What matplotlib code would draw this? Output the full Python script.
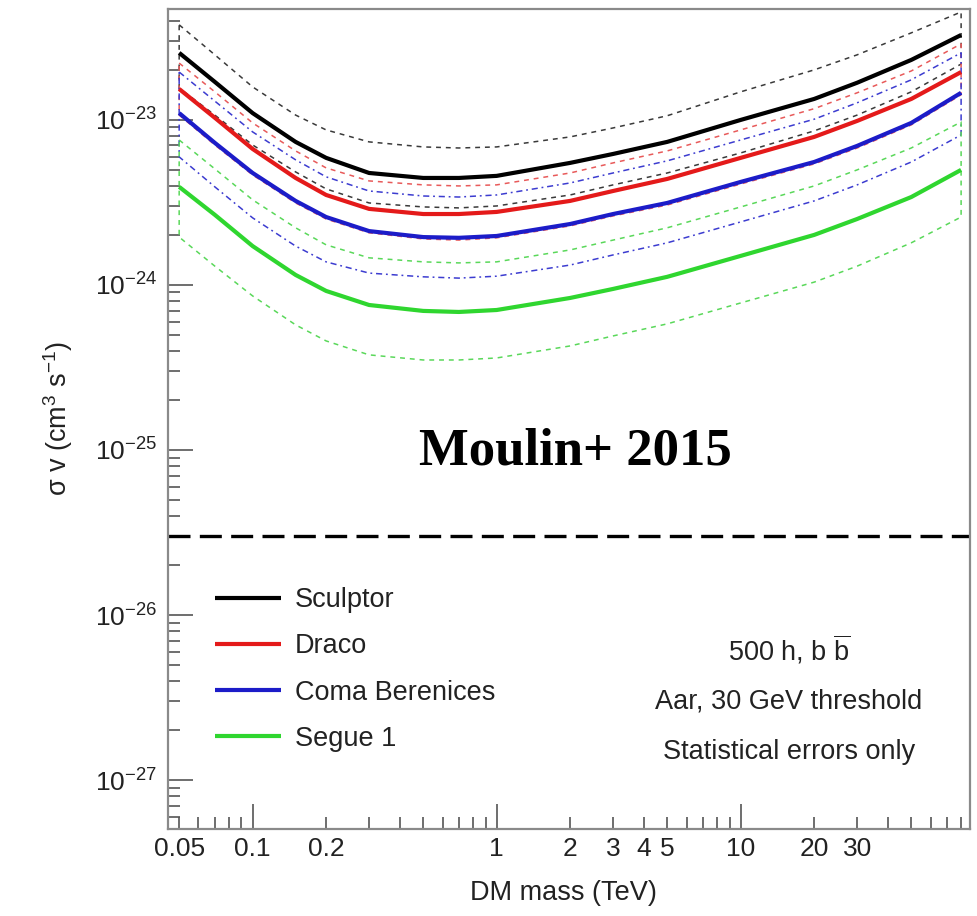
import numpy as np
import matplotlib
matplotlib.use('Agg')
import matplotlib.pyplot as plt
from matplotlib.ticker import FixedLocator, FuncFormatter, NullFormatter

plt.rcParams['font.family'] = ['Liberation Sans', 'DejaVu Sans']
plt.rcParams['mathtext.fontset'] = 'custom'
plt.rcParams['mathtext.rm'] = 'Liberation Sans'
plt.rcParams['mathtext.it'] = 'Liberation Sans:italic'
plt.rcParams['mathtext.bf'] = 'Liberation Sans:bold'

# DM mass grid (TeV)
mass = [0.05, 0.07, 0.1, 0.15, 0.2, 0.3, 0.5, 0.7, 1, 2, 3, 5, 10, 20, 30, 50, 80]

# 95% CL upper limits on <sigma v> (cm^3 s^-1), 500 h, b bbar
sculptor = [2.55e-23, 1.70e-23, 1.10e-23, 7.36e-24, 5.89e-24, 4.77e-24, 4.45e-24, 4.45e-24, 4.58e-24,
            5.49e-24, 6.22e-24, 7.36e-24, 1.00e-23, 1.34e-23, 1.68e-23, 2.31e-23, 3.27e-23]
draco = [1.54e-23, 1.03e-23, 6.67e-24, 4.45e-24, 3.51e-24, 2.89e-24, 2.69e-24, 2.69e-24, 2.77e-24,
         3.23e-24, 3.71e-24, 4.39e-24, 5.89e-24, 7.89e-24, 9.86e-24, 1.34e-23, 1.95e-23]
coma = [1.10e-23, 7.26e-24, 4.77e-24, 3.23e-24, 2.58e-24, 2.12e-24, 1.95e-24, 1.93e-24, 1.98e-24,
        2.34e-24, 2.69e-24, 3.14e-24, 4.21e-24, 5.56e-24, 6.96e-24, 9.59e-24, 1.46e-23]
segue = [3.93e-24, 2.66e-24, 1.72e-24, 1.15e-24, 9.20e-25, 7.56e-25, 6.96e-25, 6.86e-25, 7.05e-25,
         8.34e-25, 9.46e-25, 1.12e-24, 1.50e-24, 2.01e-24, 2.51e-24, 3.41e-24, 4.98e-24]

# J-factor uncertainty bands (upper / lower edges)
sculptor_hi = [3.77e-23, 2.48e-23, 1.585e-23, 1.07e-23, 8.70e-24, 7.36e-24, 6.86e-24, 6.76e-24, 6.86e-24,
               7.89e-24, 8.94e-24, 1.06e-23, 1.48e-23, 2.01e-23, 2.48e-23, 3.37e-23, 4.51e-23]
sculptor_lo = [1.56e-23, 1.07e-23, 7.05e-24, 4.84e-24, 3.82e-24, 3.14e-24, 2.97e-24, 2.93e-24, 3.01e-24,
               3.51e-24, 4.04e-24, 4.77e-24, 6.31e-24, 8.58e-24, 1.07e-23, 1.48e-23, 2.18e-23]
draco_hi = [2.21e-23, 1.48e-23, 9.59e-24, 6.49e-24, 5.12e-24, 4.27e-24, 4.04e-24, 3.98e-24, 4.04e-24,
            4.77e-24, 5.49e-24, 6.49e-24, 8.70e-24, 1.17e-23, 1.46e-23, 1.98e-23, 2.89e-23]
draco_lo = [1.07e-23, 7.05e-24, 4.64e-24, 3.14e-24, 2.51e-24, 2.07e-24, 1.90e-24, 1.87e-24, 1.93e-24,
            2.28e-24, 2.62e-24, 3.05e-24, 4.09e-24, 5.41e-24, 6.76e-24, 9.33e-24, 1.42e-23]
coma_hi = [1.95e-23, 1.30e-23, 8.46e-24, 5.73e-24, 4.52e-24, 3.71e-24, 3.46e-24, 3.41e-24, 3.51e-24,
           4.15e-24, 4.77e-24, 5.65e-24, 7.56e-24, 1.01e-23, 1.27e-23, 1.75e-23, 2.55e-23]
coma_lo = [5.97e-24, 3.93e-24, 2.55e-24, 1.72e-24, 1.38e-24, 1.18e-24, 1.12e-24, 1.10e-24, 1.13e-24,
           1.32e-24, 1.52e-24, 1.80e-24, 2.41e-24, 3.23e-24, 4.04e-24, 5.56e-24, 8.11e-24]
segue_hi = [7.56e-24, 5.05e-24, 3.28e-24, 2.22e-24, 1.75e-24, 1.46e-24, 1.38e-24, 1.36e-24, 1.38e-24,
            1.63e-24, 1.87e-24, 2.22e-24, 2.97e-24, 3.98e-24, 4.98e-24, 6.76e-24, 9.72e-24]
segue_lo = [1.95e-24, 1.30e-24, 8.58e-25, 5.73e-25, 4.58e-25, 3.77e-25, 3.51e-25, 3.51e-25, 3.61e-25,
            4.27e-25, 4.91e-25, 5.81e-25, 7.78e-25, 1.04e-24, 1.30e-24, 1.80e-24, 2.58e-24]

thermal = 3e-26
names = ['Sculptor', 'Draco', 'Coma Berenices', 'Segue 1']
x_labels = [0.05, 0.1, 0.2, 1, 2, 3, 4, 5, 10, 20, 30]
y_decades = [1e-27, 1e-26, 1e-25, 1e-24, 1e-23]

fig = plt.figure(figsize=(9.77, 9.16), dpi=100)
ax = fig.add_axes([168 / 977, 1 - 829 / 916, 802 / 977, 820 / 916])
ax.set_xscale('log')
ax.set_yscale('log')
ax.set_xlim(0.045, 87)
ax.set_ylim(5.05e-28, 4.7e-23)

solid_cols = ['#000000', '#e41a1a', '#1c1cc8', '#2fd62f']
band_cols = ['#3a3a3a', '#e85a5a', '#3c3cd0', '#5ad85a']
band_ls = [(0, (3.2, 3.2)), (0, (3.2, 3.2)), (0, (4, 2.5, 1.2, 2.5)), (0, (3.2, 3.2))]
bands = [(sculptor_hi, sculptor_lo), (draco_hi, draco_lo), (coma_hi, coma_lo), (segue_hi, segue_lo)]
limits = [sculptor, draco, coma, segue]

# band outlines drawn as closed contours
xb = np.concatenate([mass, mass[::-1], mass[:1]])
for (hi, lo), c, ls in zip(bands, band_cols, band_ls):
    yb = np.concatenate([hi, lo[::-1], hi[:1]])
    ax.plot(xb, yb, color=c, lw=1.1, ls=ls)

handles = []
for y, c, n in zip(limits, solid_cols, names):
    l, = ax.plot(mass, y, color=c, lw=3.0, solid_capstyle='butt', label=n)
    handles.append(l)

ax.axhline(thermal, color='black', lw=2.4, ls=(0, (6.6, 2.8)))

# axes styling
for s in ax.spines.values():
    s.set_color('#8a8a8a')
    s.set_linewidth(1.6)

ax.xaxis.set_major_locator(FixedLocator([0.1, 1, 10]))
minors = [m * d for d in (0.01, 0.1, 1, 10) for m in range(2, 10)]
ax.xaxis.set_minor_locator(FixedLocator([v for v in minors if 0.045 <= v <= 87]))


def xfmt(v, pos):
    for l in x_labels:
        if abs(v - l) / l < 1e-6:
            return '%g' % l
    return ''


ax.xaxis.set_major_formatter(FuncFormatter(xfmt))
ax.xaxis.set_minor_formatter(FuncFormatter(xfmt))

ax.yaxis.set_major_locator(FixedLocator(y_decades))
yminors = [m * d for d in (1e-28, 1e-27, 1e-26, 1e-25, 1e-24, 1e-23) for m in range(2, 10)]
ax.yaxis.set_minor_locator(FixedLocator([v for v in yminors if 5.05e-28 <= v <= 4.7e-23]))
ax.yaxis.set_major_formatter(FuncFormatter(lambda v, p: r'$10^{%d}$' % round(np.log10(v))))
ax.yaxis.set_minor_formatter(NullFormatter())

ax.tick_params(which='both', direction='in', top=False, right=False, color='#555555', width=1.2,
               labelcolor='#222222', labelsize=19)
ax.tick_params(which='major', length=18)
ax.tick_params(which='minor', length=8.5)
ax.tick_params(axis='x', which='both', pad=6)
ax.tick_params(axis='y', which='both', pad=8)

fig.text(563 / 977, 1 - 893 / 916, 'DM mass (TeV)', ha='center', va='center', fontsize=19.5, color='#222222')
fig.text(58 / 977, 1 - 418 / 916, 'σ v (cm$^{3}$ s$^{-1}$)', rotation=90, ha='center', va='center',
         fontsize=19.5, color='#222222')

ax.legend(handles=handles, loc='upper left', bbox_to_anchor=(215 / 977, 1 - 587 / 916),
          bbox_transform=fig.transFigure, frameon=False, fontsize=19.5, handlelength=2.45,
          handletextpad=0.5, labelspacing=0.75, borderpad=0, borderaxespad=0, labelcolor='#222222')

info = ['500 h, b $\\overline{\\mathrm{b}}$', 'Aar, 30 GeV threshold', 'Statistical errors only']
for i, t in enumerate(info):
    fig.text(789 / 977, 1 - (650 + 51 * i) / 916, t, ha='center', va='center', fontsize=19.5, color='#222222')

fig.text(575 / 977, 1 - 452 / 916, 'Moulin+ 2015', ha='center', va='center', fontsize=38,
         fontfamily='Liberation Serif', fontweight='bold')

fig.savefig('out.png', dpi=100)
